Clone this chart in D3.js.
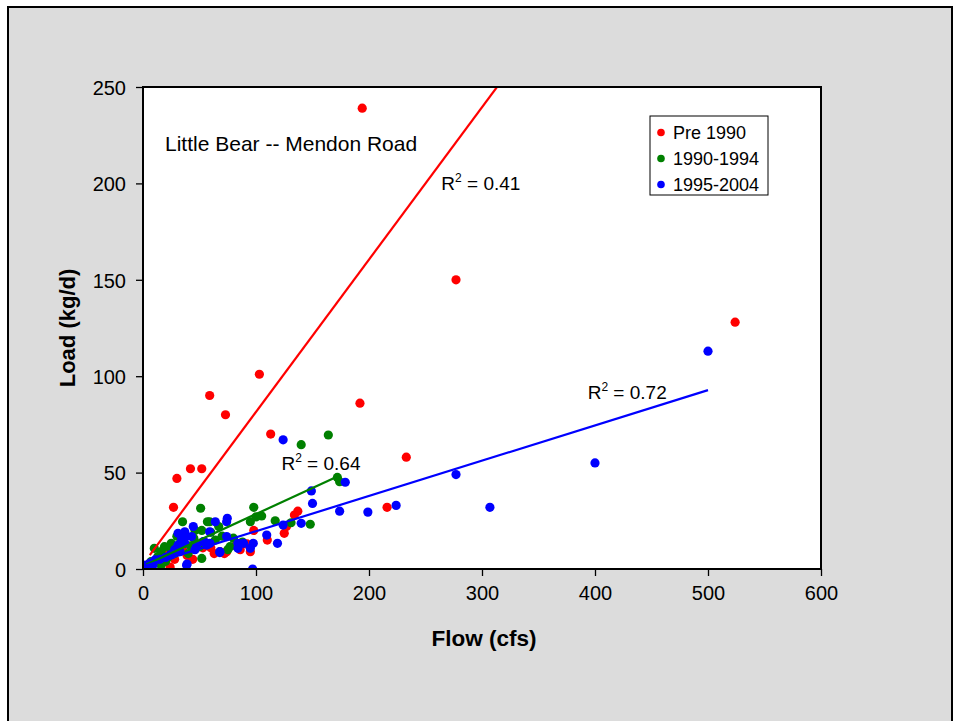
<!DOCTYPE html>
<html>
<head>
<meta charset="utf-8">
<script src="https://cdn.jsdelivr.net/npm/d3@7"></script>
<style>
  html, body { margin: 0; padding: 0; background: #fff; }
  svg { display: block; font-family: "Liberation Sans", Arial, sans-serif; }
</style>
</head>
<body>
<svg id="chart" width="959" height="721"></svg>
<script>
// ---- Data ----
const seriesNames = ["Pre 1990", "1990-1994", "1995-2004"];
const seriesColors = ["#FF0000", "#008000", "#0000FF"];

const pre1990 = [
  [194,239],[277,150],[524,128],[103,101],[59,90],[73,80],[192,86],[113,70],[233,58],
  [42,52],[52,52],[30,47],[216,32],[27,32],[137,30],[134,28],[127,22],[125,18.5],
  [98,20],[92,13],[68,9],[24,1],[44,5],[63,8],[72,8],[95,9],[74,9],[53,11],[6,3],
  [15,6],[20,8],[35,10],[48,13],[60,11],[82,12],[110,15],[39,7],[86,10],[12,4],[28,5]
];
const y1990_1994 = [
  [164,69.5],[140,64.5],[174,45.3],[172,47.5],[148,23.2],[51,31.5],[35,24.5],[98,32],
  [100,27],[105,27.5],[117,25],[95,24.5],[59,24.5],[57,24.5],[52,20],[131,24],[77,11.6],
  [75,10],[25,13.3],[19,11.6],[16,9],[25,10],[31,11.6],[13,6.4],[16,2],[52,5.5],[40,8],
  [10,10.7],[46,20],[60,19],[7,3.8],[50,11.6],[22,6],[28,8],[35,14],[42,12],[64,15],
  [80,16],[88,14],[45,16],[30,17],[55,13],[20,4],[67,22],[70,17]
];
const y1995_2004 = [
  [500,113],[400,55],[277,49],[307,32],[224,33],[199,29.5],[174,30],[179,45],[149,40.5],
  [150,34],[140,23.7],[124,67],[97,0],[124,22.8],[109.5,17.6],[119,13.3],[74.6,26.3],
  [74,24.5],[74,16.8],[84,13.3],[89,13.3],[97.6,13.3],[95,10.7],[84,10.7],[64,24.5],
  [59,19.3],[68,8.5],[38.6,2],[44.5,22],[43,16.8],[35.7,16],[37,13.3],[32.7,12.4],
  [53.4,14.2],[47.5,12],[56.4,12.4],[59.3,13.3],[0.3,1.2],[4.7,1.2],[10.6,4.7],[24,7.3],
  [32.7,9],[0,0.5],[3.8,0.9],[8.8,2],[39,2.6],[54,14.2],[38.3,16.8],[34,15],[31,12.4],
  [25,7.3],[31,18.5],[37,19.3],[68,9],[2,2],[6,3],[15,5],[20,6],[46,10],[28,10]
];

// Linear trendlines: slope, intercept, x-range
const trendSlopes = [0.79, 0.27, 0.183];
const trendIntercepts = [2.5, 1.5, 1.3];
const trendRanges = [[6, 524], [3, 174], [0.3, 500]];
const trendLabels = ["0.41", "0.64", "0.72"];
const trendLabelAt = [[264, 196.5], [122.5, 51.5], [393.5, 88]]; // data coords of label start

const xTicks = [0, 100, 200, 300, 400, 500, 600];
const yTicks = [0, 50, 100, 150, 200, 250];
const chartTitle = "Little Bear -- Mendon Road";
const xTitle = "Flow (cfs)";
const yTitle = "Load (kg/d)";

// ---- Layout ----
const svg = d3.select("#chart");
const pL = 143, pR = 821, pT = 87, pB = 569;
const x = d3.scaleLinear().domain([0, 600]).range([pL, pR]);
const y = d3.scaleLinear().domain([0, 250]).range([pB, pT]);

// outer frame
svg.append("rect").attr("x", 0).attr("y", 0).attr("width", 959).attr("height", 721).attr("fill", "#fff");
svg.append("rect").attr("x", 8).attr("y", 7).attr("width", 944).attr("height", 730)
  .attr("fill", "#DCDCDC").attr("stroke", "#000").attr("stroke-width", 2);

// plot area
svg.append("rect").attr("x", pL).attr("y", pT).attr("width", pR - pL).attr("height", pB - pT)
  .attr("fill", "#fff");

svg.append("clipPath").attr("id", "clip").append("rect")
  .attr("x", pL).attr("y", pT).attr("width", pR - pL).attr("height", pB - pT);

// axes
const xAxis = d3.axisBottom(x).tickValues(xTicks).tickSize(7).tickPadding(10).tickFormat(d3.format("d"));
const yAxis = d3.axisLeft(y).tickValues(yTicks).tickSize(7).tickPadding(10).tickFormat(d3.format("d"));
const gx = svg.append("g").attr("transform", `translate(0,${pB})`).call(xAxis);
const gy = svg.append("g").attr("transform", `translate(${pL},0)`).call(yAxis);
[gx, gy].forEach(g => {
  g.select(".domain").remove();
  g.selectAll(".tick line").attr("stroke", "#000").attr("stroke-width", 1.3);
  g.selectAll(".tick text").attr("fill", "#000").attr("font-size", 20)
    .attr("font-family", '"Liberation Sans", Arial, sans-serif');
});
gy.selectAll(".tick text").attr("dy", "0.36em");

// points
const plot = svg.append("g").attr("clip-path", "url(#clip)");
const allSeries = [pre1990, y1990_1994, y1995_2004];
allSeries.forEach((data, i) => {
  plot.append("g").selectAll("circle").data(data).join("circle")
    .attr("cx", d => x(d[0])).attr("cy", d => y(d[1])).attr("r", 4.6)
    .attr("fill", seriesColors[i]);
});

// trendlines
allSeries.forEach((data, i) => {
  const pts = trendRanges[i].map(xv => [xv, trendSlopes[i] * xv + trendIntercepts[i]]);
  plot.append("path").datum(pts)
    .attr("d", d3.line().x(d => x(d[0])).y(d => y(d[1])))
    .attr("stroke", seriesColors[i]).attr("stroke-width", 2.2).attr("fill", "none");
});

// plot border
svg.append("rect").attr("x", pL).attr("y", pT).attr("width", pR - pL).attr("height", pB - pT)
  .attr("fill", "none").attr("stroke", "#000").attr("stroke-width", 2);

// R^2 labels
trendLabels.forEach((lab, i) => {
  const t = svg.append("text")
    .attr("x", x(trendLabelAt[i][0])).attr("y", y(trendLabelAt[i][1]))
    .attr("font-size", 19).attr("fill", "#000");
  t.append("tspan").text("R");
  t.append("tspan").attr("font-size", 12).attr("dy", -8).text("2");
  t.append("tspan").attr("dy", 8).text(" = " + lab);
});

// chart title inside plot
svg.append("text").attr("x", 165).attr("y", 151).attr("font-size", 21).attr("fill", "#000")
  .text(chartTitle);

// axis titles
svg.append("text").attr("x", (pL + pR) / 2 + 2).attr("y", 646).attr("text-anchor", "middle")
  .attr("font-size", 22.5).attr("font-weight", "bold").attr("fill", "#000").text(xTitle);
svg.append("text").attr("transform", `translate(75,${(pT + pB) / 2}) rotate(-90)`)
  .attr("text-anchor", "middle").attr("font-size", 22).attr("font-weight", "bold")
  .attr("fill", "#000").text(yTitle);

// legend
const lg = svg.append("g");
lg.append("rect").attr("x", 650).attr("y", 116).attr("width", 118).attr("height", 79)
  .attr("fill", "#fff").attr("stroke", "#000").attr("stroke-width", 1);
seriesNames.forEach((name, i) => {
  const cy = 132.5 + i * 26;
  lg.append("circle").attr("cx", 661).attr("cy", cy).attr("r", 3.8).attr("fill", seriesColors[i]);
  lg.append("text").attr("x", 673).attr("y", cy).attr("dy", "0.36em")
    .attr("font-size", 18).attr("fill", "#000").text(name);
});
</script>
</body>
</html>
